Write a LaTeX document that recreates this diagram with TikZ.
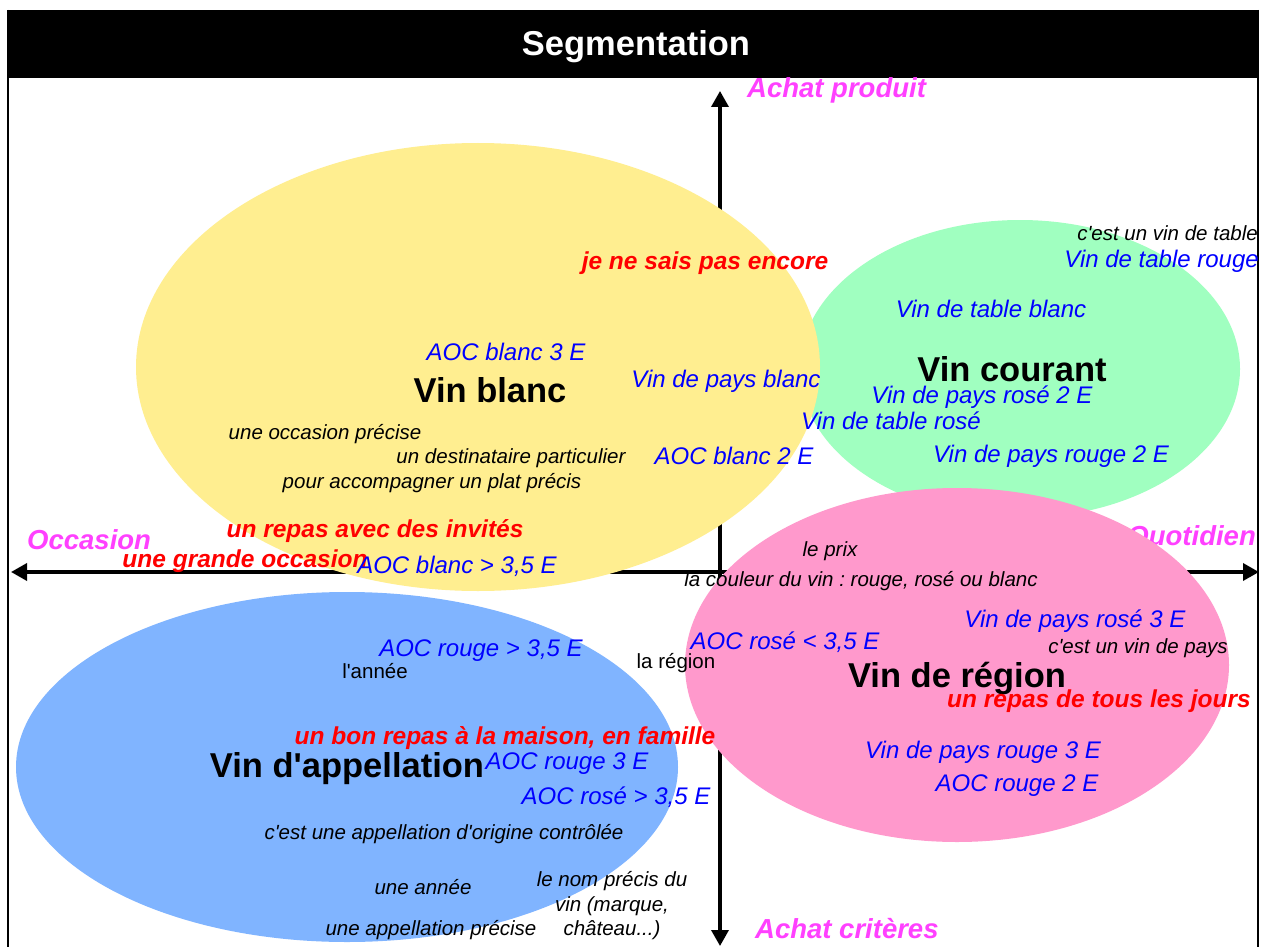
\documentclass[tikz,border=0pt]{standalone}
\usepackage{fontspec}
\setmainfont{Liberation Sans}
\usetikzlibrary{arrows.meta}
\frenchspacing

\definecolor{jaune}{HTML}{FFEE90}
\definecolor{vert}{HTML}{A0FFC0}
\definecolor{rose}{HTML}{FF99CC}
\definecolor{bleu}{HTML}{80B4FF}
\definecolor{magenta}{HTML}{FF40FF}

\tikzset{
  txt/.style={inner sep=0pt, font=\fontsize{20.5}{24}\selectfont\itshape},
  prix/.style={inner sep=0pt, text=blue, font=\fontsize{24}{28}\selectfont\itshape},
  segment/.style={inner sep=0pt, font=\fontsize{34.5}{40}\selectfont\bfseries},
  motif/.style={inner sep=0pt, text=red, font=\fontsize{24.5}{29}\selectfont\bfseries\itshape},
  axelabel/.style={inner sep=0pt, text=magenta, font=\fontsize{27.5}{32}\selectfont\bfseries\itshape},
  axe/.style={line width=3.5pt, {Triangle[length=16pt,width=17pt]}-{Triangle[length=16pt,width=17pt]}}
}

\begin{document}
\begin{tikzpicture}[x=1pt, y=-1pt]
    \useasboundingbox[fill=white] (0,0) rectangle (1261,947);

    % Frame and title
    \fill[black] (8,10) rectangle (1258,78);
    \draw[line width=2pt] (8,10) -- (8,947);
    \draw[line width=2pt] (1258,10) -- (1258,947);
    \node[segment, text=white] (title) at (636,47) {Segmentation};

    % Axes
    \coordinate (ouest) at (11,572);
    \coordinate (est) at (1259,572);
    \coordinate (nord) at (720,91);
    \coordinate (sud) at (720,946);
    \draw[axe] (ouest) -- (est);
    \draw[axe] (nord) -- (sud);

    \node[axelabel, anchor=west] (produit) at (747,90) {Achat produit};
    \node[axelabel, anchor=west] (occasion) at (27,540) {Occasion};
    \node[axelabel, anchor=east] (quotidien) at (1256,538) {Quotidien};
    \node[axelabel, anchor=west] (criteres) at (755,929) {Achat critères};

    % Segments
    \fill[vert] (1020,369) ellipse [x radius=220pt, y radius=149pt];
    \fill[jaune] (478,367) ellipse [x radius=342pt, y radius=224pt];
    \fill[rose] (957,665) ellipse [x radius=272pt, y radius=177pt];
    \fill[bleu] (347,767) ellipse [x radius=331pt, y radius=175pt];

    % Vin blanc
    \node[motif] (encore) at (705,263) {je ne sais pas encore};
    \node[prix] (blanc3) at (506,352) {AOC blanc 3 E};
    \node[segment] (vinblanc) at (490,390) {Vin blanc};
    \node[prix] (paysblanc) at (726,381) {Vin de pays blanc};
    \node[txt] (precise) at (325,434) {une occasion précise};
    \node[txt] (destinataire) at (511,458) {un destinataire particulier};
    \node[txt] (plat) at (432,483) {pour accompagner un plat précis};
    \node[prix] (blanc2) at (734,456) {AOC blanc 2 E};
    \node[motif] (invites) at (375,531) {un repas avec des invités};
    \node[motif] (grande) at (245,561) {une grande occasion};
    \node[prix] (blanc35) at (457,566) {AOC blanc > 3,5 E};

    % Vin courant
    \node[txt, anchor=east] (table) at (1258,233) {c\textquotesingle est un vin de table};
    \node[prix, anchor=east] (tablerouge) at (1259,261) {Vin de table rouge};
    \node[prix] (tableblanc) at (991,309) {Vin de table blanc};
    \node[segment] (courant) at (1012,369) {Vin courant};
    \node[prix] (paysrose2) at (982,397) {Vin de pays rosé 2 E};
    \node[prix] (tablerose) at (891,421) {Vin de table rosé};
    \node[prix] (paysrouge2) at (1051,456) {Vin de pays rouge 2 E};

    % Vin de region
    \node[txt] (leprix) at (830,551) {le prix};
    \node[txt] (couleur) at (861,581) {la couleur du vin : rouge, rosé ou blanc};
    \node[prix] (paysrose3) at (1075,621) {Vin de pays rosé 3 E};
    \node[prix] (rose35) at (785,642) {AOC rosé < 3,5 E};
    \node[txt] (pays) at (1138,648) {c\textquotesingle est un vin de pays};
    \node[txt, font=\fontsize{20.5}{24}\selectfont] (region) at (676,663) {la région};
    \node[segment] (vinregion) at (957,678) {Vin de région};
    \node[motif] (jours) at (1099,701) {un repas de tous les jours};
    \node[prix] (paysrouge3) at (983,752) {Vin de pays rouge 3 E};
    \node[prix] (rouge2) at (1017,786) {AOC rouge 2 E};

    % Vin d'appellation
    \node[prix] (rouge35) at (481,651) {AOC rouge > 3,5 E};
    \node[txt, font=\fontsize{20.5}{24}\selectfont] (annee) at (375,671) {l\textquotesingle année};
    \node[motif] (famille) at (505,738) {un bon repas à la maison, en famille};
    \node[segment] (appellation) at (347,769) {Vin d\textquotesingle appellation};
    \node[prix] (rouge3) at (567,764) {AOC rouge 3 E};
    \node[prix] (rosesup) at (616,797) {AOC rosé > 3,5 E};
    \node[txt] (aoc) at (444,834) {c\textquotesingle est une appellation d\textquotesingle origine contrôlée};
    \node[txt] (uneannee) at (423,887) {une année};
    \node[txt, align=center, font=\fontsize{20.5}{24.5}\selectfont\itshape] (nom) at (612,906) {le nom précis du\\vin (marque,\\château...)};
    \node[txt] (appprecise) at (431,930) {une appellation précise};
\end{tikzpicture}
\end{document}
